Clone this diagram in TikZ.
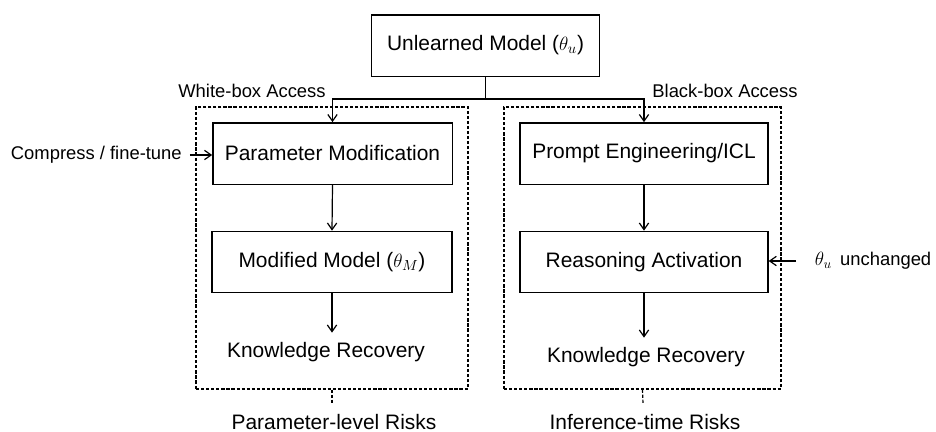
\documentclass[tikz,border=0pt]{standalone}
\usepackage{fontspec}
\setmainfont{Liberation Sans}
\usetikzlibrary{arrows.meta}
\tikzset{
  stagebox/.style={draw, line width=1pt, minimum height=46pt, inner sep=0pt, font=\fontsize{15.7}{18}\selectfont},
  frame/.style={draw, line width=0.9pt, dash pattern=on 2.4pt off 1.4pt, minimum height=211.5pt, inner sep=0pt},
  bigtext/.style={inner ysep=7pt, font=\fontsize{15.7}{18}\selectfont},
  sidetext/.style={inner sep=2pt, font=\fontsize{13.8}{16}\selectfont},
  flow/.style={line width=0.9pt, -{Straight Barb[length=5pt,width=7pt,line width=0.9pt]}},
  link/.style={line width=0.9pt},
  tick/.style={line width=0.9pt, dash pattern=on 2.4pt off 1.4pt}
}
\begin{document}
\begin{tikzpicture}[x=0.75pt,y=-0.75pt]
\useasboundingbox (0,0) rectangle (936,432);

% dashed groups
\node[frame, minimum width=204pt] (lf) at (332,248) {};
\node[frame, minimum width=207.75pt] (rf) at (642.5,248) {};

% model at the top
\node[stagebox, minimum width=171pt] (top) at (485.5,45.5) {Unlearned Model ($\theta_u$)};

% white-box branch
\node[stagebox, minimum width=179.5pt] (pm) at (332.5,153.5) {Parameter Modification};
\node[stagebox, minimum width=180pt] (mm) at (332,262) {Modified Model ($\theta_M$)};
\node[bigtext] (kr1) at (326,352) {Knowledge Recovery};

% black-box branch
\node[stagebox, minimum width=186pt] (pe) at (644,153.5) {Prompt Engineering/ICL};
\node[stagebox, minimum width=186pt] (ra) at (644,262) {Reasoning Activation};
\node[bigtext] (kr2) at (646,357) {Knowledge Recovery};

% access labels
\node[sidetext] at (252,91) {White-box Access};
\node[sidetext] at (725,91) {Black-box Access};

% side inputs
\node[sidetext, anchor=west] (cf) at (8,155) {Compress / fine-tune};
\node[sidetext, anchor=west] (tu) at (812,261) {$\theta_u$\,\ unchanged};

% risk labels
\node[bigtext, inner ysep=2pt] (plr) at (334,422) {Parameter-level Risks};
\node[bigtext, inner ysep=2pt] (itr) at (645,422) {Inference-time Risks};
\coordinate (lt) at (332,404);
\coordinate (rt) at (643,404);

% connectors
\coordinate (j) at (485.5,99);
\draw[link] (top.south) -- (j);
\draw[flow] (j) -| (pm.north);
\draw[flow] (j) -| (pe.north);
\draw[flow] (pm.south) -- (mm.north);
\draw[flow] (mm.south) -- (mm.south |- kr1.north);
\draw[flow] (pe.south) -- (ra.north);
\draw[flow] (ra.south) -- (ra.south |- kr2.north);
\draw[flow] ([xshift=4pt]cf.east) -- (cf.east -| pm.west);
\draw[flow] ([xshift=-12pt]tu.west) -- (tu.west -| ra.east);
\draw[tick] (lf.south) -- (lt);
\draw[tick] (rf.south) -- (rt);
\end{tikzpicture}
\end{document}
